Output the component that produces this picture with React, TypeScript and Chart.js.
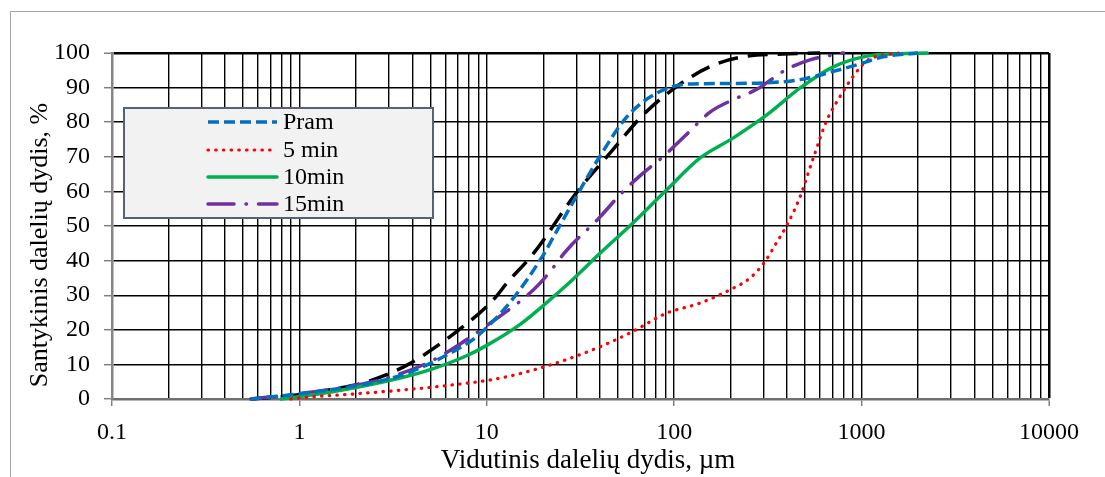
import React, { useEffect, useRef } from 'react';
import { Chart, registerables } from 'chart.js';

Chart.register(...registerables);

const FONT = '"Liberation Serif", "Times New Roman", serif';

// Axis ticks
const xMajorTicks = [0.1, 1, 10, 100, 1000, 10000];
const xTickLabels = ['0.1', '1', '10', '100', '1000', '10000'];
const xMinorMultipliers = [2, 3, 4, 5, 6, 7, 8, 9];
const yTicks = [0, 10, 20, 30, 40, 50, 60, 70, 80, 90, 100];

// Series (size in µm, cumulative %)
const pramSizes = [0.55, 1, 2, 3, 4, 6.6, 8.9, 13.8, 20, 22.5, 30, 40, 56, 80, 117, 200, 313, 470, 700, 1000, 1300, 2000];
const pramValues = [0, 1.5, 3.8, 5.8, 8, 13.7, 18.2, 29, 41.6, 46.5, 58.5, 70, 81.6, 88.3, 91, 91.2, 91.4, 92.3, 94.6, 97, 98.9, 100];

const min5Sizes = [0.9, 1, 2, 3.4, 6.4, 11.7, 21.7, 40.2, 60, 91, 137, 206, 253, 305, 350, 400, 470, 552, 653, 767, 900, 1070, 1300, 1600];
const min5Values = [0, 0.3, 1.5, 2.5, 4.0, 6.0, 9.8, 15.1, 19.5, 24.8, 27.7, 32, 34.9, 39.7, 45, 50.3, 58.5, 69.6, 80.6, 87.4, 93.2, 97.8, 99.4, 100];

const min10Sizes = [0.8, 1.5, 3.4, 5, 7.8, 10, 15, 20, 26.8, 40.2, 60, 91, 137, 206, 312, 470, 706, 1070, 1580, 2240];
const min10Values = [0, 2.1, 6.0, 8.5, 12.5, 15.5, 21.5, 27, 33, 42.1, 50.8, 60.4, 69.6, 75.4, 82.1, 89.9, 96, 99.1, 99.8, 100];

const min15Sizes = [0.55, 1, 2, 2.9, 5.2, 10.4, 17.7, 21, 26.7, 40, 51.3, 65.6, 87, 114, 156, 206, 276, 390, 530, 800];
const min15Values = [0, 1.5, 4, 6.0, 11.3, 21.9, 31.5, 35.8, 43, 52.5, 59, 64.5, 70, 76, 83, 86.5, 89.5, 95, 98, 100];

const blackSizes = [0.55, 0.92, 1.5, 2.3, 3.75, 6.9, 10.8, 12.8, 17.7, 30, 47, 68, 103, 162, 246, 380, 600];
const blackValues = [0, 1.0, 2.8, 5.0, 9.8, 19.5, 28.6, 33.5, 42, 59.5, 72, 82, 90.3, 96.5, 99.1, 99.7, 100];

const seriesNames = ['Pram', '5 min', '10min', '15min'];

const toPoints = (xs: number[], ys: number[]) => xs.map((x, i) => ({ x, y: ys[i] }));

const isMajor = (v: number) => Math.abs(Math.log10(v) - Math.round(Math.log10(v))) < 1e-6;

const styles = [
  { color: '#0070C0', width: 3.5, dash: [11, 5], cap: 'butt' },
  { color: '#FF0000', width: 3.2, dash: [0.5, 7.2], cap: 'round' },
  { color: '#00B050', width: 3.5, dash: [], cap: 'round' },
  { color: '#7030A0', width: 3.5, dash: [26, 12, 0.5, 12], cap: 'round' },
];

const overlayPlugin = {
  id: 'overlay',
  afterDraw(chart: any) {
    const ctx = chart.ctx;
    ctx.save();
    // legend
    ctx.fillStyle = '#F2F2F2';
    ctx.fillRect(124, 108, 309, 110);
    ctx.strokeStyle = '#56627A';
    ctx.lineWidth = 2;
    ctx.strokeRect(124, 108, 309, 110);
    const rows = [122, 150, 177, 204];
    styles.forEach((s, i) => {
      ctx.beginPath();
      ctx.strokeStyle = s.color;
      ctx.lineWidth = s.width;
      ctx.lineCap = s.cap;
      ctx.setLineDash(s.dash);
      ctx.moveTo(208, rows[i]);
      ctx.lineTo(277, rows[i]);
      ctx.stroke();
      ctx.setLineDash([]);
      ctx.fillStyle = '#000';
      ctx.font = `24px ${FONT}`;
      ctx.textAlign = 'left';
      ctx.textBaseline = 'middle';
      ctx.fillText(seriesNames[i], 283, rows[i] + 1);
    });
    // axis titles
    ctx.fillStyle = '#000';
    ctx.textAlign = 'center';
    ctx.textBaseline = 'middle';
    ctx.font = `27px ${FONT}`;
    ctx.fillText('Vidutinis dalelių dydis, µm', 588, 461);
    ctx.font = `26px ${FONT}`;
    ctx.translate(40, 245);
    ctx.rotate(-Math.PI / 2);
    ctx.fillText('Santykinis dalelių dydis, %', 0, 0);
    ctx.restore();
  },
};

export default function App() {
  const ref = useRef<HTMLCanvasElement | null>(null);
  useEffect(() => {
    if (!ref.current) return;
    const mk = (label: string, xs: number[], ys: number[], s: any) => ({
      label,
      data: toPoints(xs, ys),
      borderColor: s.color,
      backgroundColor: s.color,
      borderWidth: s.width,
      borderDash: s.dash,
      borderCapStyle: s.cap,
      pointRadius: 0,
      fill: false,
      cubicInterpolationMode: 'monotone',
      clip: 6,
    });
    const chart = new Chart(ref.current, {
      type: 'line',
      data: {
        datasets: [
          mk(seriesNames[0], pramSizes, pramValues, styles[0]),
          mk(seriesNames[1], min5Sizes, min5Values, styles[1]),
          mk(seriesNames[2], min10Sizes, min10Values, styles[2]),
          mk(seriesNames[3], min15Sizes, min15Values, styles[3]),
          mk('', blackSizes, blackValues, { color: '#000000', width: 3.5, dash: [20, 10], cap: 'butt' }),
        ] as any,
      },
      options: {
        responsive: false,
        animation: false,
        devicePixelRatio: 1,
        layout: { padding: { top: 53, right: 56, left: 0, bottom: 0 } },
        plugins: { legend: { display: false }, tooltip: { enabled: false }, title: { display: false } },
        scales: {
          x: {
            type: 'logarithmic',
            min: 0.1,
            max: 10000,
            afterBuildTicks: (scale: any) => {
              const vals: number[] = [];
              xMajorTicks.forEach((m, i) => {
                vals.push(m);
                if (i < xMajorTicks.length - 1) xMinorMultipliers.forEach((k) => vals.push(+(m * k).toPrecision(6)));
              });
              scale.ticks = vals.map((v) => ({ value: v }));
            },
            afterFit: (scale: any) => { scale.height = 78; },
            ticks: {
              autoSkip: false,
              maxRotation: 0,
              padding: 12,
              color: '#000',
              font: { family: FONT, size: 24 },
              callback: (v: any) => {
                const i = xMajorTicks.findIndex((m) => Math.abs(m - Number(v)) < 1e-9 * Math.max(1, m));
                return i >= 0 ? xTickLabels[i] : '';
              },
            },
            grid: {
              color: '#000',
              lineWidth: (c: any) => (c.tick && c.tick.value === 10000 ? 2.5 : 1.4),
              tickLength: 7,
              tickColor: (c: any) => (c.tick && isMajor(c.tick.value) ? '#808080' : 'rgba(0,0,0,0)'),
              tickWidth: 1.5,
            },
            border: { color: '#6f6f6f', width: 2.5 },
          },
          y: {
            min: 0,
            max: 100,
            afterBuildTicks: (scale: any) => { scale.ticks = yTicks.map((v) => ({ value: v })); },
            afterFit: (scale: any) => { scale.width = 112; },
            ticks: { padding: 14, color: '#000', font: { family: FONT, size: 24 } },
            grid: {
              color: '#000',
              lineWidth: (c: any) => (c.tick && c.tick.value === 100 ? 2.5 : 1.4),
              tickLength: 8,
              tickColor: '#808080',
              tickWidth: 1.5,
            },
            border: { color: '#868686', width: 2.5 },
          },
        },
      } as any,
      plugins: [overlayPlugin],
    });
    return () => chart.destroy();
  }, []);

  return (
    <div style={{ position: 'absolute', left: 0, top: 0, width: 1105, height: 477, background: '#fff' }}>
      <div style={{ position: 'absolute', left: 10, top: 11, right: -2, bottom: -2, borderTop: '1.5px solid #A6A6A6', borderLeft: '1.5px solid #A6A6A6' }} />
      <canvas ref={ref} width={1105} height={477} style={{ position: 'absolute', left: 0, top: 0 }} />
    </div>
  );
}
